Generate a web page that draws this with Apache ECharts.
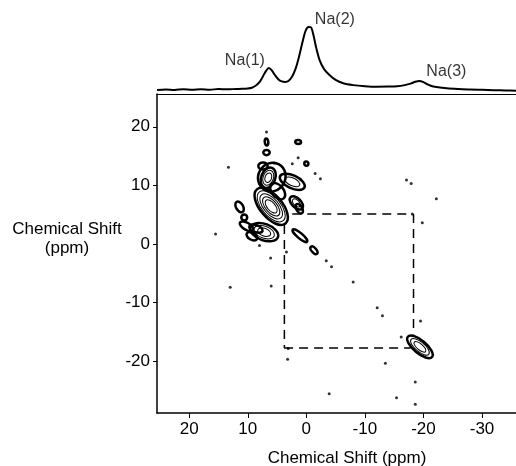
<!DOCTYPE html>
<html>
<head>
<meta charset="utf-8">
<script src="https://cdn.jsdelivr.net/npm/echarts@6/dist/echarts.min.js"></script>
<style>
  html, body { margin: 0; padding: 0; background: #fff; }
  #chart { width: 516px; height: 466px; }
</style>
</head>
<body>
<div id="chart"></div>
<script>
// 1D projection on top (ppm, intensity)
var specPpm = [25.5, 24, 22.5, 21, 19.5, 18, 16.5, 15, 13.5, 12, 11, 10, 9.3, 8.6, 8.0, 7.4, 6.9, 6.4, 5.9, 5.4,
  4.8, 4.2, 3.6, 3.0, 2.4, 1.8, 1.2, 0.6, 0.1, -0.4, -0.8, -1.2, -1.7, -2.3, -3.0, -3.9, -5.0, -6.3, -8.0, -10,
  -12, -14, -15.5, -16.8, -17.8, -18.6, -19.3, -20.0, -20.7, -21.5, -22.5, -24, -26, -28, -30, -32, -34, -35.8];
var specInt = [5.5, 6.2, 5.4, 6.5, 5.8, 6.4, 5.9, 6.6, 6.3, 6.8, 7.0, 7.5, 8.5, 11.5, 16, 24, 31, 35, 32, 26,
  20, 17, 16.3, 18, 24, 35, 52, 72, 86, 90.5, 90, 80, 62, 45, 34, 26, 19, 14.5, 12, 10.5,
  9.8, 10, 10.5, 12, 14, 16.5, 17.6, 16, 13, 10.5, 9, 7.8, 6.8, 6, 5.6, 5.2, 4.8, 4.5];

var peakNames = ['Na(1)', 'Na(2)', 'Na(3)'];
var peakPpm = [6.4, -0.6, -19.3];
var peakInt = [35, 90.5, 17.6];

// contour blobs: centre (ppm), semi axes (ppm), tilt (deg), number of levels
var blobX = [6.0, 5.9, 6.5, 2.4, 1.7, 11.4, 10.6, 10.2, 7.2, 9.3, 1.1, -1.3, 6.8, 6.8, 1.4, 0.0, -19.4,
  4.9, 7.4, 1.2, 8.6];
var blobY = [6.4, 11.4, 11.3, 10.6, 7.0, 6.3, 4.5, 3.0, 2.0, 1.3, 1.4, -1.1, 17.4, 15.6, 17.4, 13.7, -17.6,
  9.0, 13.3, 6.0, 2.6];
var blobRx = [3.8, 2.3, 1.2, 2.3, 1.4, 0.6, 0.5, 1.3, 2.5, 1.0, 1.6, 0.8, 0.3, 0.55, 0.5, 0.35, 2.7,
  1.6, 0.8, 0.9, 1.2];
var blobRy = [1.9, 2.5, 1.8, 1.1, 0.8, 1.0, 0.5, 0.6, 1.4, 0.6, 0.45, 0.4, 0.6, 0.45, 0.35, 0.35, 1.1,
  1.0, 0.6, 0.5, 0.6];
var blobTilt = [-50, -30, -20, -25, -45, 30, 0, -30, -20, -30, -40, -50, 10, 0, 0, 0, -40,
  -50, 0, -60, -20];
var blobLevels = [5, 1, 3, 2, 2, 1, 1, 1, 3, 1, 1, 1, 1, 1, 1, 1, 3,
  1, 1, 1, 1];

// isolated noise points
var dotX = [6.8, 13.3, 2.4, 1.4, -1.5, -2.4, -17.1, -17.9, -22.2, -19.8, 15.5, 8.0, 6.1, 3.4, 13.0, 6.0, -8.0,
  -12.1, -13.0, -19.5, 3.2, 3.1, -13.5, -18.6, -3.9, -15.4, -18.6, -16.2, -3.4, -4.3, -18.1, 5.5];
var dotY = [19.1, 13.1, 13.7, 14.7, 12.0, 11.1, 10.9, 10.3, 7.7, 3.6, 1.7, -0.3, -2.4, -1.4, -7.4, -7.2, -6.5,
  -10.9, -12.3, -13.2, -19.7, -17.9, -20.4, -23.6, -25.6, -26.3, -27.4, -15.9, -2.9, -3.9, 5.1, 13.8];

// dashed correlation box, one segment each
var segX1 = [2.4, -18.3, 3.8, 3.75];
var segY1 = [5.1, 5.1, -17.8, 3.2];
var segX2 = [-18.1, -18.3, -17.8, 3.75];
var segY2 = [5.1, -15.5, -17.8, -17.8];

var xTicks = [20, 10, 0, -10, -20, -30];
var yTicks = [20, 10, 0, -10, -20];

var font = "'Liberation Sans', Arial, Helvetica, sans-serif";
var chart = echarts.init(document.getElementById('chart'));

var labelOffsets = [[-24, 5], [25, 6], [27, 4]];

var series = [
  {
    type: 'line',
    xAxisIndex: 0, yAxisIndex: 0,
    data: specPpm.map(function (p, i) { return [p, specInt[i]]; }),
    symbol: 'none',
    smooth: 0.3,
    lineStyle: { color: '#000', width: 2 },
    silent: true
  },
  {
    type: 'scatter',
    xAxisIndex: 0, yAxisIndex: 0,
    symbolSize: 0,
    itemStyle: { color: '#000' },
    data: peakNames.map(function (n, i) {
      return { name: n, value: [peakPpm[i], peakInt[i]], label: { offset: labelOffsets[i] } };
    }),
    label: {
      show: true, position: 'top', formatter: '{b}',
      color: '#000', fontSize: 16, fontFamily: font
    },
    silent: true
  },
  {
    type: 'custom',
    xAxisIndex: 1, yAxisIndex: 1,
    data: blobX.map(function (x, i) {
      return [x, blobY[i], blobRx[i], blobRy[i], blobTilt[i], blobLevels[i]];
    }),
    encode: { x: 0, y: 1 },
    clip: true,
    silent: true,
    renderItem: function (params, api) {
      var c = api.coord([api.value(0), api.value(1)]);
      var s = api.size([1, 1]);
      var rx = api.value(2) * s[0], ry = api.value(3) * s[1];
      var n = api.value(5);
      var kids = [];
      for (var k = 0; k < n; k++) {
        var f = 1 - k * 0.8 / n;
        kids.push({
          type: 'ellipse',
          shape: { cx: 0, cy: 0, rx: rx * f, ry: ry * f },
          style: { fill: null, stroke: '#000', lineWidth: k === 0 ? 2.5 : 1 }
        });
      }
      return { type: 'group', x: c[0], y: c[1], rotation: api.value(4) * Math.PI / 180, children: kids };
    }
  },
  {
    type: 'scatter',
    xAxisIndex: 1, yAxisIndex: 1,
    symbolSize: 3,
    itemStyle: { color: '#000' },
    data: dotX.map(function (x, i) { return [x, dotY[i]]; }),
    silent: true
  }
];

segX1.forEach(function (x, i) {
  series.push({
    type: 'line',
    xAxisIndex: 1, yAxisIndex: 1,
    data: [[x, segY1[i]], [segX2[i], segY2[i]]],
    symbol: 'none',
    lineStyle: { color: '#000', width: 1.5, type: [9, 6] },
    silent: true
  });
});

chart.setOption({
  animation: false,
  backgroundColor: '#fff',
  textStyle: { fontFamily: font },
  grid: [
    { left: 157, right: 0, top: 20, bottom: 372, outerBoundsMode: 'none' },
    { left: 157, right: 0, top: 94, bottom: 53, outerBoundsMode: 'none' }
  ],
  graphic: [{
    type: 'text', x: 67, y: 220,
    style: {
      text: 'Chemical Shift\n(ppm)', align: 'center', verticalAlign: 'top',
      fill: '#000', fontSize: 17, fontFamily: font, lineHeight: 19
    }
  }],
  xAxis: [
    {
      gridIndex: 0, type: 'value', min: -35.8, max: 25.5, inverse: true,
      axisLine: { show: true, lineStyle: { color: '#000', width: 1.2 } },
      axisTick: { show: false }, axisLabel: { show: false }, splitLine: { show: false }
    },
    {
      gridIndex: 1, type: 'value', min: -35.8, max: 25.5, inverse: true,
      name: 'Chemical Shift (ppm)', nameLocation: 'middle', nameGap: 45,
      nameTextStyle: { color: '#000', fontSize: 17, fontFamily: font, align: 'center', verticalAlign: 'middle', padding: [0, 0, 0, 21] },
      axisLine: { show: true, onZero: false, lineStyle: { color: '#000', width: 1.5 } },
      axisTick: { show: true, length: 5, customValues: xTicks, lineStyle: { color: '#000' } },
      axisLabel: { customValues: xTicks, color: '#000', fontSize: 17, fontFamily: font, margin: 8 },
      splitLine: { show: false }
    }
  ],
  yAxis: [
    {
      gridIndex: 0, type: 'value', min: 0, max: 100, show: false
    },
    {
      gridIndex: 1, type: 'value', min: -28.9, max: 25.6,
      axisLine: { show: true, onZero: false, lineStyle: { color: '#000', width: 1.5 } },
      axisTick: { show: true, length: 4, customValues: yTicks, lineStyle: { color: '#000' } },
      axisLabel: { customValues: yTicks, color: '#000', fontSize: 17, fontFamily: font, margin: 7 },
      splitLine: { show: false }
    }
  ],
  series: series
});
</script>
</body>
</html>
